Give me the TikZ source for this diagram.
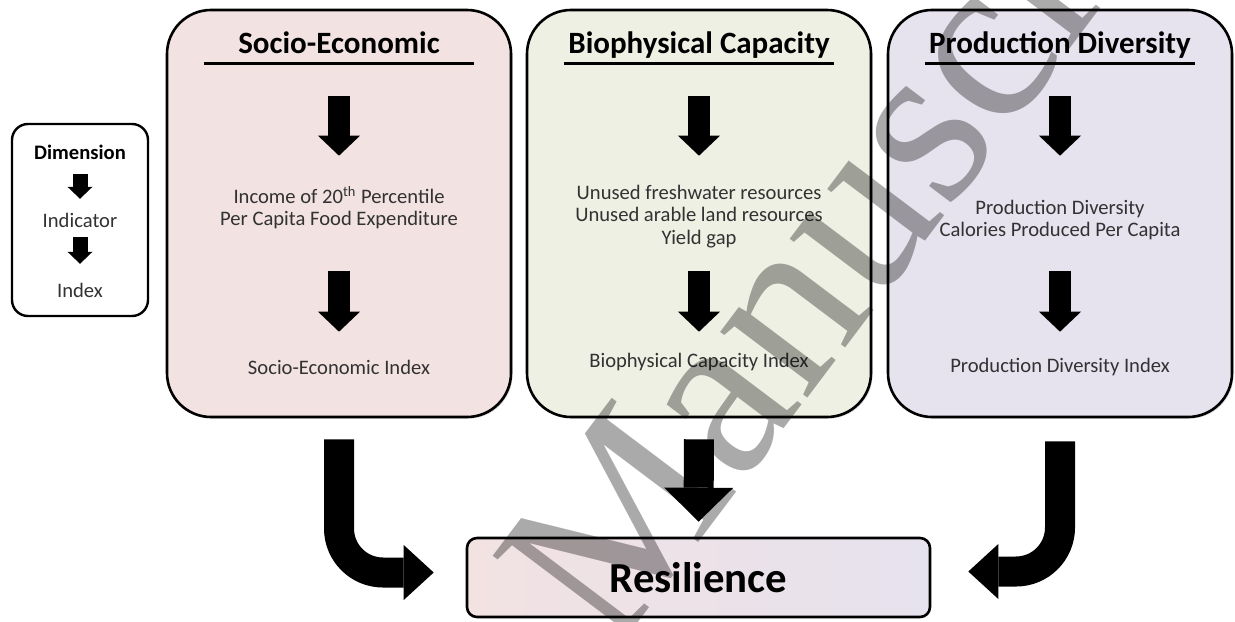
\documentclass[tikz,border=0pt]{standalone}
\usepackage{fontspec}
\setmainfont{Carlito}
\newfontfamily\wmfont{Liberation Serif}
\usetikzlibrary{positioning,arrows.meta,shadows}

\definecolor{socfill}{RGB}{242,226,226}
\definecolor{biofill}{RGB}{238,240,228}
\definecolor{prodfill}{RGB}{230,226,238}
\definecolor{txtgray}{RGB}{50,50,50}
\definecolor{wmgray}{RGB}{170,170,170}

\begin{document}
\begin{tikzpicture}[
  x=0.5pt, y=-0.5pt,
  panel/.style={draw, line width=1.3pt, rounded corners=22pt, minimum width=172pt, minimum height=203.5pt,
    drop shadow={shadow xshift=0.8pt, shadow yshift=-0.8pt, opacity=0.3}},
  keybox/.style={draw, line width=1.2pt, rounded corners=8pt, fill=white, minimum width=68pt, minimum height=96pt},
  title/.style={font=\fontsize{15.5}{18}\selectfont\bfseries, inner sep=0pt, minimum width=135pt,
    text height=12pt, text depth=4.5pt, anchor=south},
  rule/.style={line width=1.5pt},
  item/.style={font=\fontsize{10.3}{11.2}\selectfont, text=txtgray, align=center, inner sep=0pt},
  keytxt/.style={font=\fontsize{10.3}{12}\selectfont, text=txtgray, inner sep=0pt},
  downarr/.style={line width=11pt, -{Triangle[length=10pt, width=21pt, line width=0pt]}},
  keyarr/.style={line width=7.5pt, -{Triangle[length=6pt, width=12.5pt, line width=0pt]}},
  bendarr/.style={line width=15pt, rounded corners=22pt, -{Triangle[length=15pt, width=27.5pt, line width=0pt]}},
  droparr/.style={line width=15pt, -{Triangle[length=17pt, width=34.5pt, line width=0pt]}},
  result/.style={draw, line width=1.3pt, rounded corners=5pt, minimum width=231.5pt, minimum height=39.5pt,
    left color=socfill, middle color=biofill, right color=prodfill,
    font=\fontsize{21.4}{24}\selectfont\bfseries},
  watermark/.style={font=\wmfont\fontsize{119}{119}\selectfont, text=wmgray, rotate=53,
    anchor=base west, inner sep=0pt}
]
\path[use as bounding box, fill=white] (0,0) rectangle (1235,621);

% legend
\node[keybox] (key) at (80,220) {};
\node[keytxt, text=black, font=\fontsize{10.3}{12}\selectfont\bfseries] (key-dim) at (80,152) {Dimension};
\node[keytxt] (key-ind) at (80,220) {Indicator};
\node[keytxt] (key-idx) at (80,290) {Index};
\draw[keyarr] ([yshift=-25.5pt]key.north) -- ([yshift=-38pt]key.north);
\draw[keyarr] ([yshift=-57pt]key.north) -- ([yshift=-70.5pt]key.north);

% dimension panels
\node[panel, fill=socfill] (soc) at (339,213.5) {};
\node[panel, fill=biofill] (bio) at (699,213.5) {};
\node[panel, fill=prodfill] (prod) at (1060,213.5) {};

% titles
\node[title] (soc-title) at (339,63) {Socio-Economic};
\node[title] (bio-title) at (699,63) {Biophysical Capacity};
\node[title] (prod-title) at (1060,63) {Production Diversity};
\draw[rule] (soc-title.south west) -- (soc-title.south east);
\draw[rule] (bio-title.south west) -- (bio-title.south east);
\draw[rule] (prod-title.south west) -- (prod-title.south east);

% indicators
\node[item] (soc-ind) at (339,207.5) {Income of 20\textsuperscript{th} Percentile\\Per Capita Food Expenditure};
\node[item] (bio-ind) at (699,216.5) {Unused freshwater resources\\Unused arable land resources\\Yield gap};
\node[item] (prod-ind) at (1060,220) {Production Diversity\\Calories Produced Per Capita};

% indices
\node[item] (soc-idx) at (339,367) {Socio-Economic Index};
\node[item] (bio-idx) at (699,362) {Biophysical Capacity Index};
\node[item] (prod-idx) at (1060,367) {Production Diversity Index};

% arrows inside the panels
\draw[downarr] ([yshift=-43.5pt]soc.north) -- ([yshift=-73.5pt]soc.north);
\draw[downarr] ([yshift=-131pt]soc.north) -- ([yshift=-161.5pt]soc.north);
\draw[downarr] ([yshift=-43.5pt]bio.north) -- ([yshift=-73.5pt]bio.north);
\draw[downarr] ([yshift=-131pt]bio.north) -- ([yshift=-161.5pt]bio.north);
\draw[downarr] ([yshift=-43.5pt]prod.north) -- ([yshift=-73.5pt]prod.north);
\draw[downarr] ([yshift=-131pt]prod.north) -- ([yshift=-161.5pt]prod.north);

% result
\node[result] (res) at (698.5,577.5) {Resilience};

% arrows into the result
\draw[bendarr, shorten <=10.5pt, shorten >=16pt] (soc.south) |- ([yshift=2.5pt]res.west);
\draw[droparr, shorten <=10.5pt, shorten >=7.5pt] (bio.south) -- (res.north);
\draw[bendarr, shorten <=11.5pt, shorten >=18.5pt] (prod.south) |- ([yshift=3pt]res.east);

% stamp across the page
\begin{scope}[blend mode=multiply]
  \clip (0,0) rectangle (1235,621);
  \node[watermark] (wm) at (613,656) {Manuscript};
\end{scope}

\end{tikzpicture}
\end{document}
